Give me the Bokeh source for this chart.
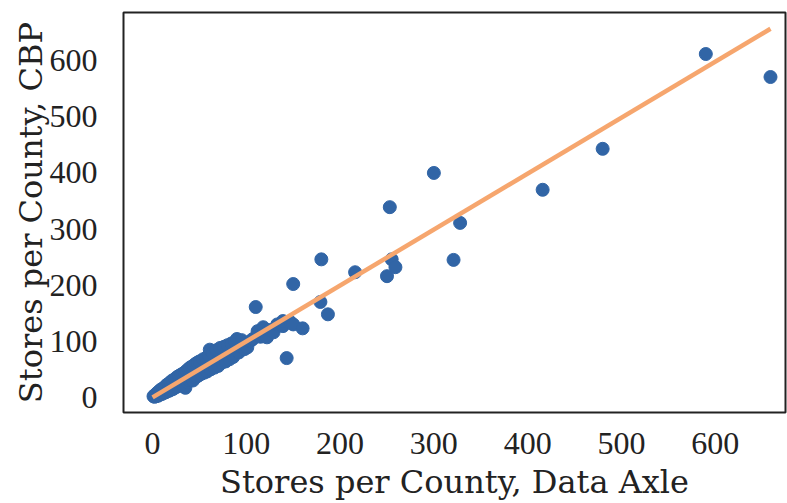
from bokeh.plotting import figure
from bokeh.models import Range1d, FixedTicker
from bokeh.embed import file_html
from bokeh.resources import INLINE

# Stores per county: Data Axle (x) vs CBP (y)
data_axle = [1, 2, 3, 4, 5, 6, 7, 8, 9, 10, 11, 12, 13, 14, 15, 16, 17, 18, 19, 20,
             21, 22, 24, 25, 26, 27, 28, 29, 30, 31, 32, 33, 34, 35, 36, 37, 38, 39, 40, 41,
             42, 43, 44, 45, 46, 47, 48, 49, 50, 52, 54, 55, 57, 58, 60, 61, 62, 64, 66, 68,
             70, 72, 74, 76, 78, 80, 82, 84, 86, 88, 90, 92, 95, 98, 101, 104, 107, 110, 112, 115,
             118, 118, 122, 125, 129, 133, 139, 139, 143, 147, 150, 150, 160, 179, 180, 187,
             216, 250, 255, 259, 253, 300, 321, 328, 416, 480, 590, 659]
cbp = [2, 1, 5, 2, 8, 3, 11, 5, 14, 6, 16, 8, 18, 9, 22, 11, 24, 12, 27, 14,
       30, 15, 33, 18, 36, 20, 38, 22, 40, 24, 42, 20, 44, 17, 47, 27, 50, 30, 53, 31,
       55, 30, 57, 36, 60, 37, 62, 39, 64, 42, 68, 44, 70, 46, 75, 85, 50, 79, 53, 84,
       56, 88, 62, 90, 64, 93, 68, 96, 72, 99, 104, 80, 102, 86, 89, 100, 104, 161, 118, 108,
       125, 109, 107, 120, 116, 130, 127, 136, 70, 134, 202, 130, 123, 170, 246, 148,
       223, 216, 246, 232, 339, 400, 245, 311, 370, 443, 612, 571]

# fitted line endpoints
fit_x = [0, 659]
fit_y = [0, 657]

x_ticks = [0, 100, 200, 300, 400, 500, 600]
y_ticks = [0, 100, 200, 300, 400, 500, 600]

TICK_FONT = "Liberation Serif"
LABEL_FONT = "DejaVu Serif"

p = figure(width=787, height=503, output_backend="svg", toolbar_location=None,
           x_range=Range1d(-31, 675), y_range=Range1d(-27, 686),
           min_border_left=123, min_border_top=12, min_border_right=2, min_border_bottom=90)

p.scatter(data_axle, cbp, size=13, color="#3165a6", line_color="#3165a6")
p.line(fit_x, fit_y, line_color="#f6a66e", line_width=4.5)

p.xgrid.visible = False
p.ygrid.visible = False
p.outline_line_color = "#222222"
p.outline_line_width = 2

for ax in (p.xaxis[0], p.yaxis[0]):
    ax.axis_line_color = None
    ax.major_tick_line_color = None
    ax.minor_tick_line_color = None
    ax.major_label_text_font = TICK_FONT
    ax.major_label_text_font_size = "32px"
    ax.major_label_text_color = "#222222"
    ax.axis_label_text_font = LABEL_FONT
    ax.axis_label_text_font_size = "32px"
    ax.axis_label_text_font_style = "normal"
    ax.axis_label_text_color = "#222222"

p.xaxis.ticker = FixedTicker(ticks=x_ticks)
p.yaxis.ticker = FixedTicker(ticks=y_ticks)
p.xaxis.axis_label = "Stores per County, Data Axle"
p.yaxis.axis_label = "Stores per County, CBP"
p.xaxis.major_label_standoff = 14
p.xaxis.axis_label_standoff = 6
p.yaxis.major_label_standoff = 20
p.yaxis.axis_label_standoff = -3

open("out.html", "w").write(file_html(p, INLINE))
